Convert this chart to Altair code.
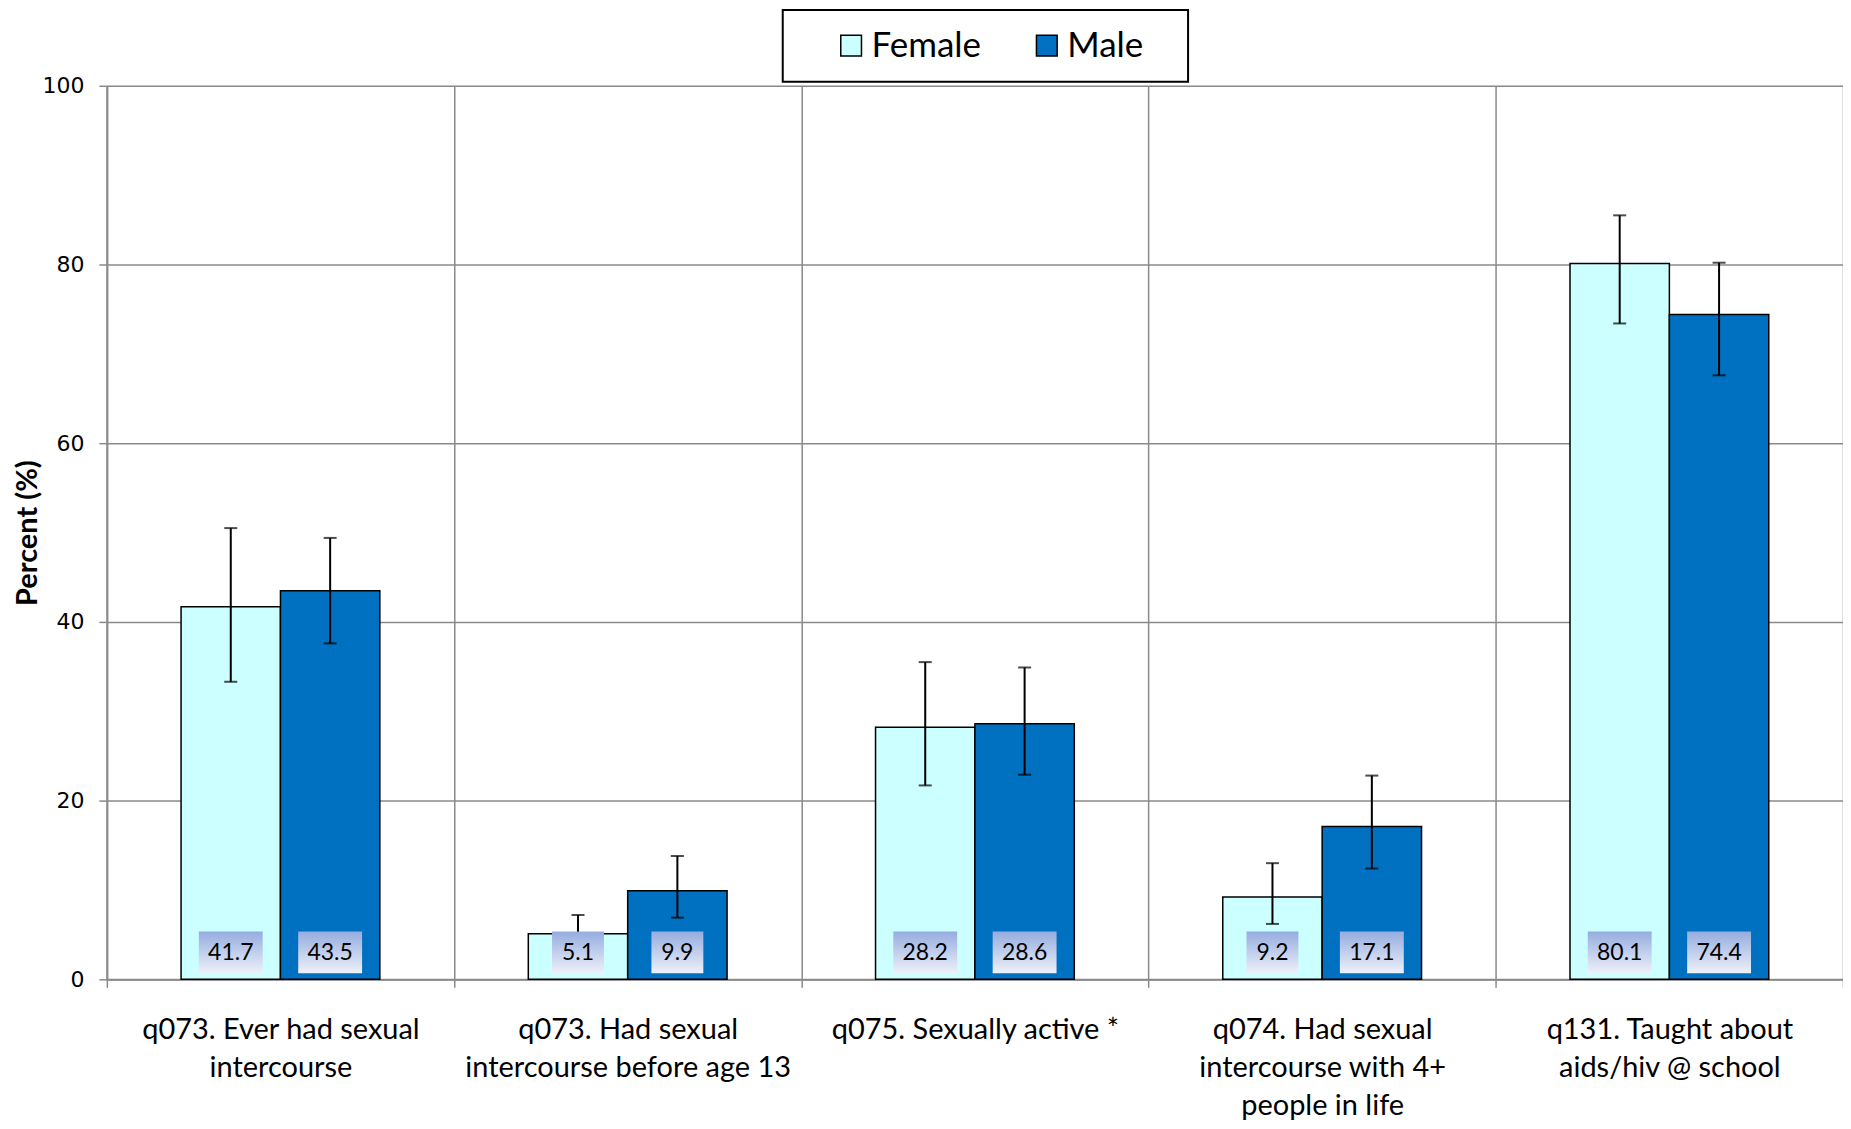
import altair as alt
import pandas as pd

CATEGORIES = [
    "q073. Ever had sexual|intercourse",
    "q073. Had sexual|intercourse before age 13",
    "q075. Sexually active *",
    "q074. Had sexual|intercourse with 4+|people in life",
    "q131. Taught about|aids/hiv @ school",
]
SEXES = ["Female", "Male"]
FEMALE = [41.7, 5.1, 28.2, 9.2, 80.1]
MALE = [43.5, 9.9, 28.6, 17.1, 74.4]
FEMALE_LO = [33.3, 3.0, 21.7, 6.2, 73.4]
FEMALE_HI = [50.5, 7.2, 35.5, 13.0, 85.5]
MALE_LO = [37.6, 6.9, 22.9, 12.4, 67.6]
MALE_HI = [49.4, 13.8, 34.9, 22.8, 80.2]
Y_TICKS = [0, 20, 40, 60, 80, 100]
COLORS = ["#CCFFFF", "#0070C0"]

rows = []
for i, c in enumerate(CATEGORIES):
    rows.append({"category": c, "sex": "Female", "value": FEMALE[i],
                 "lo": FEMALE_LO[i], "hi": FEMALE_HI[i], "label": f"{FEMALE[i]:.1f}"})
    rows.append({"category": c, "sex": "Male", "value": MALE[i],
                 "lo": MALE_LO[i], "hi": MALE_HI[i], "label": f"{MALE[i]:.1f}"})
df = pd.DataFrame(rows)

W, H = 1739, 895
GRAY = "#8a8a8a"

xenc = alt.X(
    "category:N",
    sort=CATEGORIES,
    scale=alt.Scale(domain=CATEGORIES, paddingInner=0, paddingOuter=0),
    axis=alt.Axis(
        title=None, tickBand="extent", grid=True, gridColor=GRAY, gridWidth=1.5,
        domainColor=GRAY, domainWidth=2, tickColor=GRAY, tickWidth=1.5, tickSize=8,
        labelExpr="split(datum.label, '|')", labelFont="Lato", labelFontSize=29,
        labelColor="black", labelLineHeight=38, labelPadding=28, labelAngle=0,
        labelLimit=500, labelOverlap=False, labelBaseline="top",
    ),
)
xoff = alt.XOffset("sex:N", sort=SEXES,
                   scale=alt.Scale(domain=SEXES, paddingInner=0, paddingOuter=0.747))
yscale = alt.Scale(domain=[0, 100], nice=False)
yaxis = alt.Axis(
    values=Y_TICKS, title="Percent (%)", titleFont="Lato", titleFontWeight="bold",
    titleFontSize=29, titleColor="black", titleX=-79, titleY=H / 2, titleAngle=-90,
    titleBaseline="middle", titleAlign="center",
    labelFont="DejaVu Sans", labelFontSize=22, labelColor="black", labelPadding=15,
    grid=True, gridColor=GRAY, gridWidth=1.5, domainColor=GRAY, domainWidth=2,
    tickColor=GRAY, tickWidth=1.5, tickSize=8,
)

base = alt.Chart(df)

bars = base.mark_bar(stroke="black", strokeWidth=1.5).encode(
    x=xenc, xOffset=xoff,
    y=alt.Y("value:Q", scale=yscale, axis=yaxis),
    color=alt.Color(
        "sex:N", sort=SEXES, scale=alt.Scale(domain=SEXES, range=COLORS),
        legend=alt.Legend(
            title="\u00a0", titleOrient="left", titleFontSize=10, titlePadding=33,
            orient="none", legendX=677, legendY=-76, direction="horizontal",
            padding=18, strokeColor="black", fillColor="white",
            symbolType="square", symbolSize=430, symbolStrokeColor="black",
            symbolStrokeWidth=1.5, labelFont="Lato", labelFontSize=35,
            labelColor="black", labelOffset=3, columnPadding=48,
            labelExpr="datum.label == 'Male' ? datum.label + '\u2800' : datum.label",
        ),
    ),
)

rules = base.mark_rule(color="black", strokeWidth=2).encode(
    x=xenc, xOffset=xoff,
    y=alt.Y("lo:Q", scale=yscale, axis=yaxis), y2="hi:Q",
)
cap_hi = base.mark_tick(color="black", thickness=2, size=13, orient="horizontal").encode(
    x=xenc, xOffset=xoff, y=alt.Y("hi:Q", scale=yscale, axis=yaxis),
)
cap_lo = base.mark_tick(color="black", thickness=2, size=13, orient="horizontal").encode(
    x=xenc, xOffset=xoff, y=alt.Y("lo:Q", scale=yscale, axis=yaxis),
)

gradient = alt.Gradient(
    gradient="linear",
    stops=[alt.GradientStop(color="#95ACDF", offset=0),
           alt.GradientStop(color="#EEF1F9", offset=1)],
    x1=0, x2=0, y1=0, y2=1,
)
boxes = base.transform_calculate(
    boxw="length(datum.label) * 12 + 16"
).mark_bar(color=gradient).encode(
    x=xenc, xOffset=xoff,
    y=alt.Y(datum=0.67, type="quantitative", scale=yscale, axis=yaxis),
    y2=alt.Y2(datum=5.36),
    size=alt.Size("boxw:Q", scale=None, legend=None),
)
texts = base.mark_text(font="Lato", fontSize=23, color="black", baseline="middle").encode(
    x=xenc, xOffset=xoff,
    y=alt.Y(datum=3.0, type="quantitative", scale=yscale, axis=yaxis),
    text="label:N",
)

chart = alt.layer(bars, rules, cap_hi, cap_lo, boxes, texts).properties(
    width=W, height=H,
    autosize=alt.AutoSizeParams(type="none"),
    padding={"left": 99, "top": 77, "right": 0, "bottom": 141},
).configure_view(stroke=None).configure(background="white").configure_legend(strokeWidth=2)

chart.save("out.html", embed_options={"renderer": "svg", "actions": False})
